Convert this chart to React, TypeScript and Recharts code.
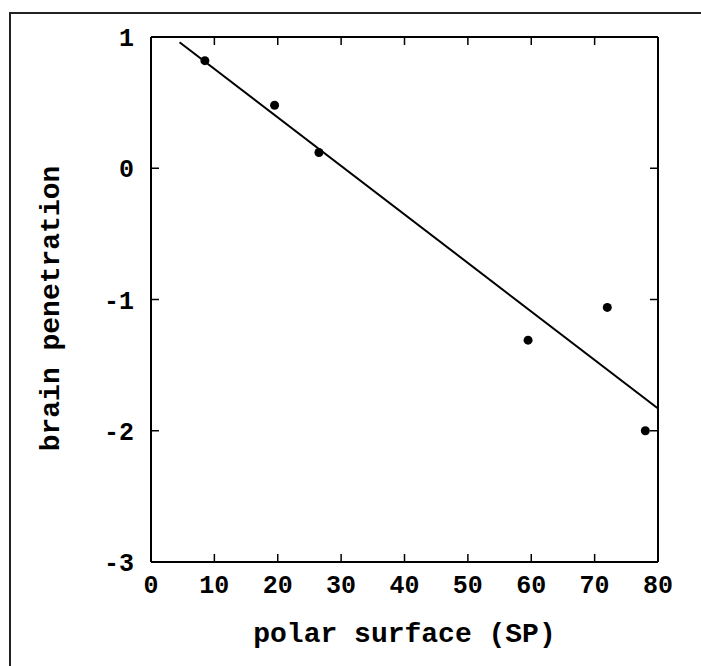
import React from 'react';
import { ScatterChart, Scatter, XAxis, YAxis } from 'recharts';

// measured compounds: polar surface vs brain penetration
const polarSurface = [8.5, 19.5, 26.5, 59.5, 72, 78];
const brainPenetration = [0.82, 0.48, 0.12, -1.31, -1.06, -2.0];

// regression line end points
const fitX = [4.5, 80];
const fitY = [0.96, -1.83];

const xTicks = [0, 10, 20, 30, 40, 50, 60, 70, 80];
const yTicks = [1, 0, -1, -2, -3];
const xInnerTicks = [10, 20, 30, 40, 50, 60, 70];
const yInnerTicks = [0, -1, -2];

const points = polarSurface.map((x, i) => ({ x, y: brainPenetration[i] }));
const fitLine = fitX.map((x, i) => ({ x, y: fitY[i] }));

const font = '"Liberation Mono", "Courier New", monospace';
const labelStyle = { fontFamily: font, fontSize: 28, fontWeight: 700, fill: '#000' };
const axisLine = { stroke: '#000', strokeWidth: 2 };
const TICK = 8;
const GAP_X = 13;
const GAP_Y = 17;

const BottomTick = (props: any) => (
  <g>
    <line x1={props.x} x2={props.x} y1={props.y - GAP_X} y2={props.y - GAP_X - TICK} stroke="#000" strokeWidth={1.5} />
    <text
      x={props.x}
      y={props.y}
      dy="0.71em"
      textAnchor="middle"
      style={{ fontFamily: font, fontSize: 25, fontWeight: 700, fill: '#000' }}
    >
      {props.payload.value}
    </text>
  </g>
);

const LeftTick = (props: any) => (
  <g>
    <line x1={props.x + GAP_Y} x2={props.x + GAP_Y + TICK} y1={props.y} y2={props.y} stroke="#000" strokeWidth={1.5} />
    <text
      x={props.x}
      y={props.y}
      dy="0.36em"
      textAnchor="end"
      style={{ fontFamily: font, fontSize: 25, fontWeight: 700, fill: '#000' }}
    >
      {props.payload.value}
    </text>
  </g>
);

const TopTick = (props: any) => (
  <line x1={props.x} x2={props.x} y1={props.y} y2={props.y + TICK} stroke="#000" strokeWidth={1.5} />
);

const RightTick = (props: any) => (
  <line x1={props.x} x2={props.x - TICK} y1={props.y} y2={props.y} stroke="#000" strokeWidth={1.5} />
);

const Dot = (props: any) => <circle cx={props.cx} cy={props.cy} r={4.5} fill="#000" />;

const YLabel = (props: any) => {
  const cx = 51;
  const cy = props.viewBox.y + props.viewBox.height / 2 + 9;
  return (
    <text
      x={cx}
      y={cy}
      transform={`rotate(-90 ${cx} ${cy})`}
      textAnchor="middle"
      dominantBaseline="central"
      style={labelStyle}
    >
      brain penetration
    </text>
  );
};

export default function App() {
  return (
    <div style={{ position: 'absolute', left: 0, top: 0, width: 701, height: 666, background: '#fff' }}>
      <div
        style={{
          position: 'absolute',
          left: 9,
          top: 12,
          width: 692,
          height: 654,
          borderLeft: '2px solid #222',
          borderTop: '2px solid #222',
        }}
      />
      <div style={{ position: 'absolute', left: 0, top: 0 }}>
        <ScatterChart width={701} height={666} margin={{ top: 36, right: 42, bottom: 0, left: 0 }}>
          <XAxis
            xAxisId="bottom"
            type="number"
            dataKey="x"
            domain={[0, 80]}
            ticks={xTicks}
            allowDataOverflow
            height={104}
            axisLine={axisLine}
            tickLine={false}
            tickSize={0}
            tickMargin={GAP_X}
            tick={BottomTick}
            label={{ value: 'polar surface (SP)', position: 'insideBottom', offset: 24, style: labelStyle }}
          />
          <XAxis
            xAxisId="top"
            orientation="top"
            type="number"
            dataKey="x"
            domain={[0, 80]}
            ticks={xInnerTicks}
            allowDataOverflow
            height={1}
            axisLine={axisLine}
            tickLine={false}
            tickSize={0}
            tickMargin={0}
            tick={TopTick}
          />
          <YAxis
            yAxisId="left"
            type="number"
            dataKey="y"
            domain={[-3, 1]}
            ticks={yTicks}
            allowDataOverflow
            width={151}
            axisLine={axisLine}
            tickLine={false}
            tickSize={0}
            tickMargin={GAP_Y}
            tick={LeftTick}
            label={{ content: YLabel }}
          />
          <YAxis
            yAxisId="right"
            orientation="right"
            type="number"
            dataKey="y"
            domain={[-3, 1]}
            ticks={yInnerTicks}
            allowDataOverflow
            width={1}
            axisLine={axisLine}
            tickLine={false}
            tickSize={0}
            tickMargin={0}
            tick={RightTick}
          />
          <Scatter
            data={fitLine}
            xAxisId="top"
            yAxisId="right"
            line={{ stroke: '#000', strokeWidth: 2 }}
            shape={() => <g />}
            isAnimationActive={false}
          />
          <Scatter
            data={points}
            xAxisId="bottom"
            yAxisId="left"
            shape={Dot}
            isAnimationActive={false}
          />
        </ScatterChart>
      </div>
    </div>
  );
}
